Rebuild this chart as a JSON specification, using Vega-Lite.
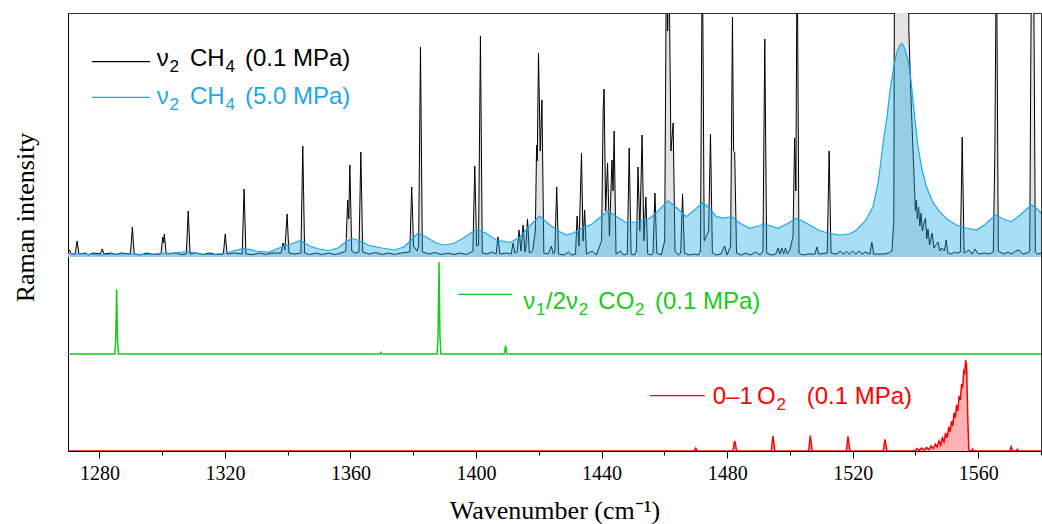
{
  "$schema": "https://vega.github.io/schema/vega-lite/v6.json",
  "width": 973,
  "height": 438,
  "autosize": {"type": "none"},
  "padding": {"left": 68, "top": 13, "right": 1, "bottom": 73},
  "background": "white",
  "config": {"view": {"stroke": "#333", "strokeWidth": 1}},
  "datasets": {
    "ch4a": [
      {"x":1270,"y":198},{"x":1270.5,"y":201},{"x":1271,"y":197},
      {"x":1272.3,"y":197},{"x":1272.9,"y":210},{"x":1273.5,"y":197},
      {"x":1275.5,"y":198},{"x":1276.5,"y":196},{"x":1278,"y":198},
      {"x":1280.3,"y":197},{"x":1280.9,"y":202},{"x":1281.5,"y":197},
      {"x":1284,"y":198},{"x":1285,"y":196.5},{"x":1287,"y":198},
      {"x":1289.9,"y":197},{"x":1290.5,"y":224},{"x":1291.1,"y":197},
      {"x":1293,"y":196},{"x":1295,"y":198},{"x":1297,"y":196.5},
      {"x":1299.6,"y":197},{"x":1300.2,"y":214},{"x":1300.45,"y":208},{"x":1300.7,"y":217},{"x":1301.3,"y":197},
      {"x":1304,"y":198},{"x":1306,"y":196.5},
      {"x":1307.7,"y":197},{"x":1308.3,"y":240},{"x":1308.9,"y":197},
      {"x":1311,"y":198},{"x":1313,"y":196.5},{"x":1315,"y":198},{"x":1317,"y":196.5},
      {"x":1319.5,"y":197},{"x":1320.1,"y":217},{"x":1320.7,"y":197},
      {"x":1323,"y":198},
      {"x":1325.5,"y":197},{"x":1326.1,"y":262},{"x":1326.7,"y":197},
      {"x":1329,"y":196.5},{"x":1331,"y":198},{"x":1333,"y":196.5},{"x":1335,"y":198},
      {"x":1337.9,"y":198},{"x":1338.5,"y":208},{"x":1339.1,"y":201},{"x":1339.8,"y":237},{"x":1340.4,"y":198},
      {"x":1342,"y":197},
      {"x":1344.2,"y":198},{"x":1344.8,"y":305},{"x":1345.4,"y":198},
      {"x":1347,"y":196.5},{"x":1349,"y":198},{"x":1351,"y":196.5},{"x":1353,"y":198},{"x":1355,"y":196.5},{"x":1357,"y":198},
      {"x":1358.5,"y":200},{"x":1359.1,"y":251},{"x":1359.45,"y":232},{"x":1359.8,"y":286},{"x":1360.4,"y":200},
      {"x":1361.5,"y":198},
      {"x":1362.7,"y":199},{"x":1363.3,"y":299},{"x":1363.9,"y":199},
      {"x":1366,"y":197},{"x":1368,"y":198.5},{"x":1370,"y":196.5},{"x":1372,"y":198},{"x":1374,"y":196.5},{"x":1376,"y":198},
      {"x":1378.9,"y":199},{"x":1379.5,"y":264},{"x":1380.1,"y":205},{"x":1381.2,"y":200},{"x":1381.7,"y":205},{"x":1382.3,"y":404},{"x":1382.9,"y":199},
      {"x":1385,"y":197},{"x":1387,"y":198.5},{"x":1389,"y":196.5},{"x":1391,"y":198},{"x":1393,"y":196.5},{"x":1395,"y":198},{"x":1397,"y":196.5},
      {"x":1399,"y":200},{"x":1399.6,"y":285},{"x":1400.2,"y":205},{"x":1400.8,"y":206},{"x":1401.4,"y":415},{"x":1402,"y":198},
      {"x":1403.5,"y":197},{"x":1405,"y":199},
      {"x":1406.4,"y":197},{"x":1407,"y":214},{"x":1407.6,"y":197},
      {"x":1409.5,"y":198},
      {"x":1411.2,"y":197},{"x":1411.8,"y":208},{"x":1412.4,"y":198},
      {"x":1413.1,"y":199},{"x":1413.7,"y":221},{"x":1414.3,"y":200},{"x":1415,"y":226},{"x":1415.6,"y":199},{"x":1415.9,"y":205},{"x":1416.4,"y":232},{"x":1417,"y":198},
      {"x":1418,"y":200},
      {"x":1418.9,"y":220},{"x":1419.3,"y":306},{"x":1419.5,"y":290},{"x":1419.9,"y":398},{"x":1420.45,"y":300},{"x":1421,"y":351},{"x":1421.6,"y":198},
      {"x":1423,"y":197},{"x":1424,"y":205},{"x":1424.6,"y":197},
      {"x":1425.1,"y":199},{"x":1425.7,"y":264},{"x":1426.3,"y":197},
      {"x":1428,"y":196},{"x":1429.5,"y":199},{"x":1430.5,"y":196},
      {"x":1431.7,"y":197},{"x":1432.2,"y":235},{"x":1432.8,"y":205},{"x":1433.6,"y":298},{"x":1434.1,"y":210},{"x":1434.6,"y":241},{"x":1435.2,"y":197},
      {"x":1437,"y":200},{"x":1438.3,"y":196},
      {"x":1440,"y":210},{"x":1440.5,"y":341},{"x":1440.8,"y":362},{"x":1441.3,"y":240},{"x":1441.9,"y":288},{"x":1442.5,"y":215},{"x":1443.3,"y":291},{"x":1443.65,"y":260},{"x":1444,"y":320},{"x":1444.6,"y":197},
      {"x":1446,"y":200},{"x":1447,"y":196},
      {"x":1448.2,"y":197},{"x":1448.8,"y":303},{"x":1449.4,"y":197},
      {"x":1450.4,"y":196},
      {"x":1451.1,"y":200},{"x":1451.6,"y":284},{"x":1452.2,"y":220},{"x":1452.9,"y":316},{"x":1453.5,"y":210},{"x":1454.1,"y":254},{"x":1454.7,"y":197},
      {"x":1455.8,"y":196},
      {"x":1456.4,"y":198},{"x":1457,"y":258},{"x":1457.6,"y":198},
      {"x":1459,"y":196},
      {"x":1460.1,"y":210},{"x":1460.7,"y":520},{"x":1461.05,"y":420},{"x":1461.4,"y":520},{"x":1462.1,"y":300},{"x":1462.8,"y":328},{"x":1463.4,"y":200},
      {"x":1464.5,"y":196},
      {"x":1465.2,"y":198},{"x":1465.8,"y":257},{"x":1466.4,"y":198},
      {"x":1468,"y":196},{"x":1469.5,"y":197},{"x":1470.8,"y":196},
      {"x":1471.5,"y":200},{"x":1472.1,"y":520},{"x":1472.7,"y":210},{"x":1474.1,"y":220},{"x":1474.7,"y":317},{"x":1475.3,"y":198},
      {"x":1476.5,"y":196},{"x":1478,"y":197},{"x":1479.2,"y":205},{"x":1480,"y":196},
      {"x":1481.1,"y":205},{"x":1481.7,"y":434},{"x":1482.05,"y":300},{"x":1482.4,"y":299},{"x":1483,"y":198},
      {"x":1484.5,"y":196},{"x":1486,"y":198},{"x":1487.5,"y":196},{"x":1489,"y":199},{"x":1490.5,"y":196},
      {"x":1491.4,"y":200},{"x":1492,"y":412},{"x":1492.6,"y":198},
      {"x":1494,"y":196},{"x":1495.5,"y":197},{"x":1496.2,"y":203},{"x":1496.8,"y":197},{"x":1497.4,"y":203},{"x":1498,"y":197},{"x":1498.6,"y":203},{"x":1499.2,"y":197},{"x":1500,"y":201},
      {"x":1501,"y":215},{"x":1501.5,"y":313},{"x":1501.9,"y":260},{"x":1502.3,"y":520},{"x":1502.9,"y":198},
      {"x":1504,"y":196},{"x":1506,"y":197},
      {"x":1508,"y":197},{"x":1508.6,"y":204},{"x":1509.2,"y":197},
      {"x":1511.9,"y":198},{"x":1512.5,"y":300},{"x":1513.1,"y":198},
      {"x":1515,"y":197},{"x":1516,"y":200},{"x":1517,"y":197},{"x":1518,"y":199.5},{"x":1519,"y":197},{"x":1520,"y":200},{"x":1521,"y":197},{"x":1522,"y":200},{"x":1523,"y":197},{"x":1524,"y":199},
      {"x":1525.5,"y":197},{"x":1526.1,"y":209},{"x":1526.7,"y":197},
      {"x":1528,"y":197},{"x":1530,"y":197},{"x":1531.5,"y":198},{"x":1532.5,"y":200},
      {"x":1533.1,"y":230},{"x":1533.4,"y":600},{"x":1537.6,"y":600},{"x":1537.9,"y":420},{"x":1538.5,"y":361},{"x":1539,"y":318},{"x":1539.6,"y":271},{"x":1540,"y":240},{"x":1540.3,"y":251},{"x":1540.6,"y":232},{"x":1541,"y":244},{"x":1541.4,"y":225},{"x":1541.8,"y":238},{"x":1542.2,"y":220},{"x":1542.7,"y":228},{"x":1543.2,"y":233},{"x":1543.6,"y":212},{"x":1544,"y":222},{"x":1544.5,"y":206},{"x":1545.3,"y":218},{"x":1545.9,"y":203},{"x":1546.5,"y":206},{"x":1547.2,"y":209},{"x":1547.8,"y":200},{"x":1548.4,"y":203},{"x":1549.2,"y":200},{"x":1549.8,"y":211},{"x":1550.3,"y":198},{"x":1551.5,"y":197},{"x":1552.5,"y":199},{"x":1553.5,"y":198},
      {"x":1554.3,"y":199},{"x":1554.9,"y":314},{"x":1555.5,"y":198},
      {"x":1557,"y":201},{"x":1558,"y":197},{"x":1559,"y":202},{"x":1560,"y":197},{"x":1562,"y":198},{"x":1563.5,"y":197},
      {"x":1564.8,"y":199},{"x":1565.3,"y":300},{"x":1565.8,"y":520},{"x":1566.4,"y":200},
      {"x":1568,"y":197},{"x":1569.5,"y":199},{"x":1570.5,"y":197},{"x":1572,"y":200},{"x":1573,"y":201},{"x":1574.2,"y":197},{"x":1575.5,"y":198},
      {"x":1576.4,"y":200},{"x":1577,"y":520},{"x":1577.3,"y":480},{"x":1577.6,"y":520},{"x":1578.2,"y":199},{"x":1579,"y":197},{"x":1580,"y":198}
    ],
    "ch4b": [
      {"x":1270,"y":197.7},{"x":1275,"y":197},{"x":1280,"y":196},{"x":1285,"y":197},{"x":1290,"y":197},{"x":1295,"y":196.5},{"x":1300,"y":197.7},{"x":1304,"y":198},{"x":1308,"y":199.3},{"x":1312,"y":197},{"x":1316,"y":196.5},{"x":1320,"y":198},{"x":1326,"y":202.7},{"x":1330,"y":200},{"x":1334,"y":198.7},{"x":1338,"y":204},{"x":1341,"y":207},{"x":1344,"y":210.3},{"x":1347,"y":205},{"x":1350,"y":202},{"x":1353,"y":200.5},{"x":1356,"y":203},{"x":1358,"y":208},{"x":1360.5,"y":212.7},{"x":1363,"y":210},{"x":1366,"y":205.5},{"x":1370,"y":203},{"x":1374,"y":201},{"x":1377,"y":204},{"x":1379,"y":210},{"x":1381.5,"y":217.7},{"x":1384,"y":214},{"x":1387.5,"y":207.7},{"x":1390,"y":206},{"x":1393,"y":207.7},{"x":1396,"y":213},{"x":1400.2,"y":221.7},{"x":1403,"y":218},{"x":1406.5,"y":211},{"x":1410.8,"y":208.3},{"x":1414,"y":214},{"x":1417,"y":225},{"x":1420.3,"y":235},{"x":1423.5,"y":226},{"x":1426.7,"y":219.3},{"x":1428.8,"y":216},{"x":1431,"y":218},{"x":1434.1,"y":223.3},{"x":1437,"y":227},{"x":1440,"y":235},{"x":1442.1,"y":240},{"x":1445,"y":234},{"x":1447.9,"y":228.3},{"x":1451,"y":229},{"x":1455.4,"y":232.7},{"x":1458,"y":240},{"x":1461.2,"y":250.3},{"x":1464,"y":243},{"x":1467,"y":234.3},{"x":1470,"y":242},{"x":1472.3,"y":248.7},{"x":1474.5,"y":242},{"x":1476.6,"y":234.3},{"x":1479,"y":233},{"x":1481.4,"y":234.3},{"x":1484,"y":228},{"x":1487.2,"y":222.7},{"x":1490,"y":225},{"x":1492,"y":227},{"x":1494,"y":225},{"x":1496.2,"y":222.7},{"x":1499,"y":227},{"x":1502,"y":232.7},{"x":1504,"y":230},{"x":1506.3,"y":226},{"x":1509,"y":221},{"x":1512,"y":218},{"x":1515.9,"y":216},{"x":1519,"y":217},{"x":1521.2,"y":221},{"x":1524,"y":230},{"x":1526.5,"y":244.3},{"x":1528.2,"y":270},{"x":1529.7,"y":307.7},{"x":1531,"y":336},{"x":1531.8,"y":357.7},{"x":1533,"y":383},{"x":1534,"y":397.7},{"x":1535,"y":406},{"x":1535.7,"y":407.7},{"x":1536.5,"y":403},{"x":1537.6,"y":391},{"x":1538.5,"y":373},{"x":1539.2,"y":351},{"x":1540,"y":327},{"x":1540.8,"y":304.3},{"x":1542,"y":283},{"x":1543.5,"y":264.3},{"x":1545.5,"y":249},{"x":1547.7,"y":239.3},{"x":1550,"y":232},{"x":1553,"y":226},{"x":1556,"y":223},{"x":1559.4,"y":221},{"x":1562,"y":226},{"x":1565.5,"y":236},{"x":1568,"y":232},{"x":1570.5,"y":229.3},{"x":1573,"y":235},{"x":1576.9,"y":246},{"x":1578.5,"y":243},{"x":1580,"y":238}
    ],
    "co2": [
      {"x":1270,"y":97},{"x":1284.9,"y":97},{"x":1285.2,"y":110},{"x":1285.5,"y":161.7},{"x":1285.8,"y":110},{"x":1286.1,"y":97},{"x":1369.4,"y":97},{"x":1369.7,"y":98.5},{"x":1370,"y":97},{"x":1387.6,"y":97},{"x":1387.9,"y":115},{"x":1388.2,"y":188.7},{"x":1388.5,"y":115},{"x":1388.8,"y":97},{"x":1409,"y":97},{"x":1409.4,"y":105.3},{"x":1409.8,"y":97},{"x":1580,"y":97}
    ],
    "o2": [
      {"x":1270,"y":0},{"x":1469.5,"y":0},{"x":1470,"y":2.7},{"x":1470.5,"y":0},
      {"x":1481.9,"y":0},{"x":1482.2,"y":7},{"x":1482.4,"y":10},{"x":1482.7,"y":6},{"x":1483,"y":0},
      {"x":1494.1,"y":0},{"x":1494.4,"y":10},{"x":1494.6,"y":15},{"x":1494.9,"y":8},{"x":1495.2,"y":0},
      {"x":1506,"y":0},{"x":1506.3,"y":10},{"x":1506.5,"y":15.3},{"x":1506.8,"y":8},{"x":1507.1,"y":0},
      {"x":1518,"y":0},{"x":1518.3,"y":9},{"x":1518.5,"y":14.7},{"x":1518.8,"y":8},{"x":1519.1,"y":0},
      {"x":1529.8,"y":0},{"x":1530.1,"y":8},{"x":1530.3,"y":11.7},{"x":1530.6,"y":6},{"x":1530.9,"y":0},
      {"x":1539.8,"y":0},{"x":1540.5,"y":2.5},{"x":1541.2,"y":0.5},{"x":1542,"y":3},{"x":1542.8,"y":1},{"x":1543.6,"y":3.5},{"x":1544.3,"y":1.5},{"x":1545,"y":5},{"x":1545.7,"y":2.5},{"x":1546.3,"y":7},{"x":1546.9,"y":4},{"x":1547.5,"y":10},{"x":1548,"y":6},{"x":1548.6,"y":13},{"x":1549.1,"y":9},{"x":1549.6,"y":18},{"x":1550.1,"y":13},{"x":1550.6,"y":24},{"x":1551,"y":19},{"x":1551.5,"y":30},{"x":1551.9,"y":25},{"x":1552.3,"y":38},{"x":1552.7,"y":33},{"x":1553.1,"y":46},{"x":1553.5,"y":40},{"x":1553.9,"y":55},{"x":1554.3,"y":51},{"x":1554.7,"y":67},{"x":1555,"y":63},{"x":1555.4,"y":80},{"x":1555.7,"y":78},{"x":1556,"y":91},{"x":1556.3,"y":85},{"x":1556.7,"y":30},{"x":1557,"y":2},{"x":1557.3,"y":0},
      {"x":1557.9,"y":0},{"x":1558.2,"y":2},{"x":1558.5,"y":0},
      {"x":1570,"y":0},{"x":1570.5,"y":4.3},{"x":1571,"y":0},{"x":1572.2,"y":0},{"x":1572.5,"y":1.5},{"x":1572.8,"y":0},{"x":1580,"y":0}
    ],
    "leg": [
      {"s":"a","x":1277.6,"x2":1296.1,"y":389.3},
      {"s":"b","x":1277.6,"x2":1296.1,"y":353.7},
      {"s":"c","x":1394.2,"x2":1411.6,"y":156.7},
      {"s":"d","x":1455.4,"x2":1472.9,"y":55.3}
    ],
    "lab": [
      {"s":"a","x":1298.26,"y":385.3,"label":"ν"},
      {"s":"a","x":1308.87,"y":385.3,"label":"CH"},
      {"s":"a","x":1326.39,"y":385.3,"label":"(0.1 MPa)"},
      {"s":"b","x":1298.26,"y":347,"label":"ν"},
      {"s":"b","x":1308.87,"y":347,"label":"CH"},
      {"s":"b","x":1326.39,"y":347,"label":"(5.0 MPa)"},
      {"s":"c","x":1415.06,"y":141.7,"label":"ν"},
      {"s":"c","x":1422.29,"y":141.7,"label":"/2ν"},
      {"s":"c","x":1438.96,"y":141.7,"label":"CO"},
      {"s":"c","x":1457.02,"y":141.7,"label":"(0.1 MPa)"},
      {"s":"d","x":1475.4,"y":47,"label":"0–1"},
      {"s":"d","x":1489.52,"y":47,"label":"O"},
      {"s":"d","x":1505.35,"y":47,"label":"(0.1 MPa)"}
    ],
    "sub": [
      {"s":"a","x":1302.34,"y":385.3,"label":"2"},
      {"s":"a","x":1320.18,"y":385.3,"label":"4"},
      {"s":"b","x":1302.34,"y":347,"label":"2"},
      {"s":"b","x":1320.18,"y":347,"label":"4"},
      {"s":"c","x":1419.11,"y":141.7,"label":"1"},
      {"s":"c","x":1432.74,"y":141.7,"label":"2"},
      {"s":"c","x":1450.65,"y":141.7,"label":"2"},
      {"s":"d","x":1495.73,"y":47,"label":"2"}
    ]
  },
  "encoding": {
    "x": {
      "field": "x", "type": "quantitative",
      "scale": {"domain": [1270, 1580], "nice": false, "zero": false},
      "axis": {
        "values": [1280,1300,1320,1340,1360,1380,1400,1420,1440,1460,1480,1500,1520,1540,1560,1580],
        "format": "d",
        "labelExpr": "datum.value % 40 == 0 ? datum.label : ''",
        "tickSize": {"condition": {"test": "datum.value % 40 == 0", "value": 7}, "value": 4},
        "grid": false,
        "domainColor": "#000", "tickColor": "#000",
        "labelFont": "Liberation Serif", "labelFontSize": 20, "labelColor": "#000", "labelPadding": 5,
        "title": "Wavenumber (cm⁻¹)",
        "titleFont": "Liberation Serif", "titleFontSize": 26, "titleFontWeight": "normal", "titleColor": "#000",
        "titleBaseline": "alphabetic", "titleY": 67
      }
    },
    "y": {
      "field": "y", "type": "quantitative",
      "scale": {"domain": [0, 438], "nice": false, "zero": false},
      "axis": {
        "labels": false, "ticks": false, "grid": false, "domainColor": "#000",
        "title": "Raman intensity",
        "titleFont": "Liberation Serif", "titleFontSize": 26, "titleFontWeight": "normal", "titleColor": "#000",
        "titleBaseline": "alphabetic", "titleX": -35, "titleY": 204
      }
    }
  },
  "layer": [
    {"data": {"name": "ch4a"}, "mark": {"type": "area", "color": "#e4e4e4", "clip": true}, "encoding": {"y2": {"datum": 194}}},
    {"data": {"name": "ch4a"}, "mark": {"type": "line", "color": "#000", "strokeWidth": 1, "clip": true}, "encoding": {}},
    {"data": {"name": "ch4b"}, "mark": {"type": "area", "color": "#1ea7ea", "opacity": 0.38, "clip": true}, "encoding": {"y2": {"datum": 194}}},
    {"data": {"name": "ch4b"}, "mark": {"type": "line", "color": "#1ea7ea", "strokeWidth": 1.2, "clip": true}, "encoding": {}},
    {"data": {"name": "co2"}, "mark": {"type": "line", "color": "#16cc16", "strokeWidth": 1.5, "clip": true}, "encoding": {}},
    {"data": {"name": "o2"}, "mark": {"type": "area", "color": "#ff0000", "opacity": 0.3, "clip": true}, "encoding": {}},
    {"data": {"name": "o2"}, "mark": {"type": "line", "color": "#ff0000", "strokeWidth": 1.5, "clip": true}, "encoding": {}},
    {"data": {"name": "leg"}, "mark": {"type": "rule", "strokeWidth": 1.3},
     "encoding": {"x2": {"field": "x2"}, "color": {"field": "s", "type": "nominal", "scale": {"domain": ["a","b","c","d"], "range": ["#000000","#1ea7ea","#16cc16","#ff0000"]}, "legend": null}}},
    {"data": {"name": "lab"}, "mark": {"type": "text", "align": "left", "baseline": "alphabetic", "font": "Liberation Sans", "fontSize": 24},
     "encoding": {"text": {"field": "label"}, "color": {"field": "s", "type": "nominal", "scale": {"domain": ["a","b","c","d"], "range": ["#000000","#1ea7ea","#16cc16","#ff0000"]}, "legend": null}}},
    {"data": {"name": "sub"}, "mark": {"type": "text", "align": "left", "baseline": "alphabetic", "font": "Liberation Sans", "fontSize": 17, "dy": 6},
     "encoding": {"text": {"field": "label"}, "color": {"field": "s", "type": "nominal", "scale": {"domain": ["a","b","c","d"], "range": ["#000000","#1ea7ea","#16cc16","#ff0000"]}, "legend": null}}}
  ]
}
